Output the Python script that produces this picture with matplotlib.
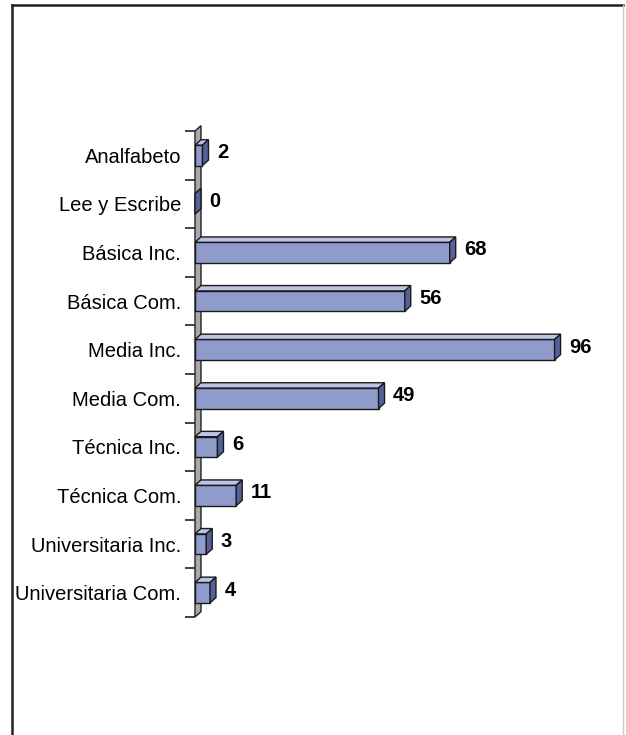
import matplotlib.pyplot as plt
from matplotlib.patches import Rectangle, Polygon
from matplotlib.lines import Line2D

plt.rcParams['font.family'] = ['Liberation Sans', 'DejaVu Sans']

categories = ["Analfabeto", "Lee y Escribe", "Básica Inc.", "Básica Com.", "Media Inc.",
              "Media Com.", "Técnica Inc.", "Técnica Com.", "Universitaria Inc.",
              "Universitaria Com."]
values = [2, 0, 68, 56, 96, 49, 6, 11, 3, 4]

front = "#8f9bcb"
top = "#bcc4e6"
side = "#55619a"
wall = "#a9a9a9"


def main():
    fig = plt.figure(figsize=(6.26, 7.35), dpi=100)
    ax = fig.add_axes([195 / 626, 118 / 735, 412 / 626, 486 / 735])
    ax.set_xlim(0, 110)
    ax.set_ylim(len(categories) - 0.5, -0.5)

    dx = 1.6   # depth in value units
    dy = 0.11  # depth in category units
    h = 0.42

    # side wall
    n = len(categories)
    ax.add_patch(Polygon([(0, -0.5), (0, n - 0.5), (dx, n - 0.5 - dy), (dx, -0.5 - dy)],
                         closed=True, facecolor=wall, edgecolor="#222222", lw=1.0,
                         clip_on=False, zorder=1))

    for i, v in enumerate(values):
        y0 = i - h / 2
        y1 = i + h / 2
        ax.add_patch(Rectangle((0, y0), v, h, facecolor=front, edgecolor="#1a1a1a",
                               lw=1.0, clip_on=False, zorder=3))
        ax.add_patch(Polygon([(0, y0), (v, y0), (v + dx, y0 - dy), (dx, y0 - dy)],
                             closed=True, facecolor=top, edgecolor="#1a1a1a", lw=1.0,
                             clip_on=False, zorder=3))
        ax.add_patch(Polygon([(v, y0), (v, y1), (v + dx, y1 - dy), (v + dx, y0 - dy)],
                             closed=True, facecolor=side, edgecolor="#1a1a1a", lw=1.0,
                             clip_on=False, zorder=3))
        ax.annotate(str(v), (v + dx, i - dy / 2), xytext=(6, 0), textcoords="offset points",
                    ha="left", va="center", fontsize=14.5, fontweight="bold", zorder=4)

    for s in ["top", "right", "bottom", "left"]:
        ax.spines[s].set_visible(False)
    ax.set_xticks([])
    ax.set_yticks(range(n))
    ax.set_yticklabels(categories, fontsize=14.5)
    ax.tick_params(axis="y", which="major", length=0, pad=10)
    ax.set_yticks([k - 0.5 for k in range(n + 1)], minor=True)
    ax.tick_params(axis="y", which="minor", length=7, width=1.2, color="#222222")
    ax.patch.set_alpha(0)

    # frame around the chart
    fig.add_artist(Line2D([0.019, 0.019], [0, 0.993], transform=fig.transFigure,
                          color="#222222", lw=1.8))
    fig.add_artist(Line2D([0.019, 0.995], [0.993, 0.993], transform=fig.transFigure,
                          color="#222222", lw=1.8))
    fig.add_artist(Line2D([0.995, 0.995], [0, 0.993], transform=fig.transFigure,
                          color="#cccccc", lw=1))

    fig.savefig("out.png", dpi=100)


if __name__ == "__main__":
    main()
